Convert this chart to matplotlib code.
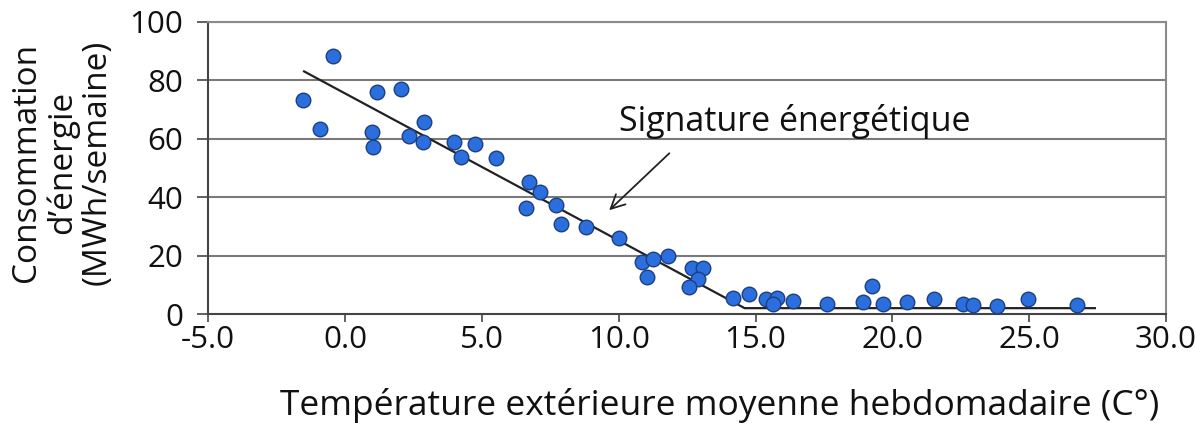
import matplotlib
matplotlib.use("Agg")
import matplotlib.pyplot as plt

plt.rcParams['font.family'] = ['Open Sans', 'DejaVu Sans']

# Weekly mean outdoor temperature (°C) and energy use (MWh/week)
temp = [-1.53, -0.46, -0.93, 1.17, 0.99, 1.02, 2.05, 2.32, 2.88, 2.84,
        3.99, 4.23, 4.74, 5.52, 6.71, 7.13, 6.62, 7.69, 7.88, 8.79,
        10.01, 10.85, 11.03, 11.25, 11.80, 12.66, 13.07, 12.89, 12.56,
        14.19, 14.75, 15.38, 15.77, 15.62, 16.38, 17.60, 18.94, 19.26,
        19.67, 20.54, 21.51, 22.57, 22.96, 23.83, 24.95, 26.74]
energy = [73.1, 88.1, 63.2, 75.9, 62.4, 57.2, 76.9, 60.8, 65.7, 58.8,
          58.8, 53.6, 58.3, 53.3, 45.1, 41.7, 36.2, 37.4, 30.9, 29.8,
          26.1, 17.9, 12.6, 18.7, 19.9, 15.6, 15.9, 11.9, 9.4,
          5.5, 6.7, 5.2, 5.5, 3.5, 4.3, 3.5, 4.0, 9.5,
          3.3, 4.0, 5.0, 3.5, 3.2, 2.6, 5.0, 3.2]

# Energy signature (piecewise fit)
sig_x = [-1.5, 14.6, 27.4]
sig_y = [83.0, 2.0, 2.0]

x_ticks = [-5, 0, 5, 10, 15, 20, 25, 30]
y_ticks = [0, 20, 40, 60, 80, 100]

annot_text = "Signature énergétique"
annot_tail = (11.85, 55.0)
annot_head = (9.65, 35.5)

fig = plt.figure(figsize=(11.95, 4.23), dpi=100)
ax = fig.add_axes([208.3/1195, 1 - 314/423, (1166 - 208.3)/1195, (314 - 21.7)/423])

ax.set_xlim(-5, 30)
ax.set_ylim(0, 100)

for yv in y_ticks[1:]:
    ax.axhline(yv, color='#7a7a7a', lw=1.5, zorder=1)

ax.plot(sig_x, sig_y, color='#222222', lw=1.6, zorder=2)
ax.scatter(temp, energy, s=110, color='#2a6fdd', edgecolors='#1d3f80',
           linewidths=1.0, zorder=3)

ax.annotate("", xy=annot_head, xytext=annot_tail,
            arrowprops=dict(arrowstyle='->', color='#222222', lw=1.3,
                            mutation_scale=25, shrinkA=0, shrinkB=0))
ax.text(16.45, 65.8, annot_text, fontsize=24.5, ha='center', va='center', color='#111111')

ax.set_xticks(x_ticks)
ax.set_xticklabels([f"{v:.1f}" for v in x_ticks])
ax.set_yticks(y_ticks)
ax.set_yticklabels([str(v) for v in y_ticks])
ax.tick_params(axis='both', labelsize=22.5, colors='#555555', labelcolor='#111111',
               width=1.3)
ax.tick_params(axis='y', length=8, pad=10)
ax.tick_params(axis='x', length=6, pad=2)

for side in ['left', 'bottom']:
    ax.spines[side].set_color('#444444')
    ax.spines[side].set_linewidth(1.5)
for side in ['top', 'right']:
    ax.spines[side].set_color('#8a8a8a')
    ax.spines[side].set_linewidth(1.5)

fig.text(720/1195, 1 - 405/423, "Température extérieure moyenne hebdomadaire (C°)",
         ha='center', va='center', fontsize=25.5, color='#111111')
fig.text(62/1195, 1 - 162/423, "Consommation\nd’énergie\n(MWh/semaine)",
         ha='center', va='center', rotation=90, fontsize=24, color='#111111',
         linespacing=1.08, multialignment='center')

fig.savefig("out.png", dpi=100)
